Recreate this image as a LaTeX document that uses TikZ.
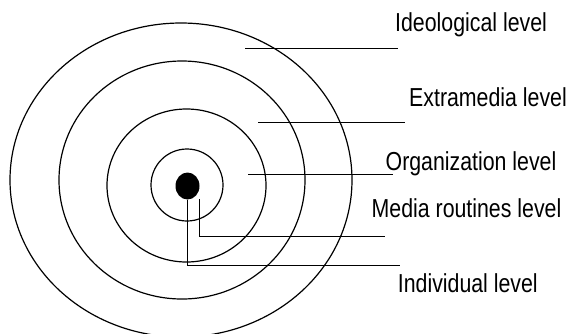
\documentclass[tikz,border=0pt]{standalone}
\usepackage{fontspec}
\setmainfont[FakeStretch=0.82]{Liberation Sans}
\usepackage{tikz}
\usetikzlibrary{shapes.geometric, positioning}

\begin{document}
\begin{tikzpicture}[
        x=1pt, y=-1pt,
        ring/.style={ellipse, draw=black, line width=1.2pt, inner sep=0pt},
        core/.style={ellipse, fill=black, inner sep=0pt, minimum width=24pt, minimum height=27pt},
        label/.style={anchor=base west, inner sep=0pt, font=\fontsize{26}{30}\selectfont},
        leader/.style={line width=1pt}
    ]
        \clip (0,0) rectangle (573,333);

        % Rings
        \node[ring, minimum width=342pt, minimum height=314pt] (ideoring) at (181,180) {};
        \node[ring, minimum width=246pt, minimum height=238pt] (extraring) at (182,180) {};
        \node[ring, minimum width=159pt, minimum height=153pt] (orgring) at (186.5,185.5) {};
        \node[ring, minimum width=72pt, minimum height=72pt] (routring) at (187,185) {};
        \node[core] (indiv) at (187.5,186) {};

        % Labels
        \node[label] (ideo) at (395,31.7) {Ideological level};
        \node[label] (extra) at (409,106.7) {Extramedia level};
        \node[label] (org) at (385.5,170.7) {Organization level};
        \node[label] (rout) at (371.5,217.3) {Media routines level};
        \node[label] (ind) at (397.7,292.7) {Individual level};

        % Leaders
        \coordinate (ideoA) at (245,48.7);
        \coordinate (ideoB) at (398,48.7);
        \coordinate (extraA) at (258,122.7);
        \coordinate (extraB) at (405,122.7);
        \coordinate (orgA) at (248,174.3);
        \coordinate (orgB) at (393,174.3);
        \coordinate (routA) at (199.3,199.3);
        \coordinate (routB) at (385,236.7);
        \coordinate (indB) at (400,265.3);

        \draw[leader] (ideoA) -- (ideoB);
        \draw[leader] (extraA) -- (extraB);
        \draw[leader] (orgA) -- (orgB);
        \draw[leader] (routA) |- (routB);
        \draw[leader] (indiv.south) |- (indB);
    \end{tikzpicture}
\end{document}
